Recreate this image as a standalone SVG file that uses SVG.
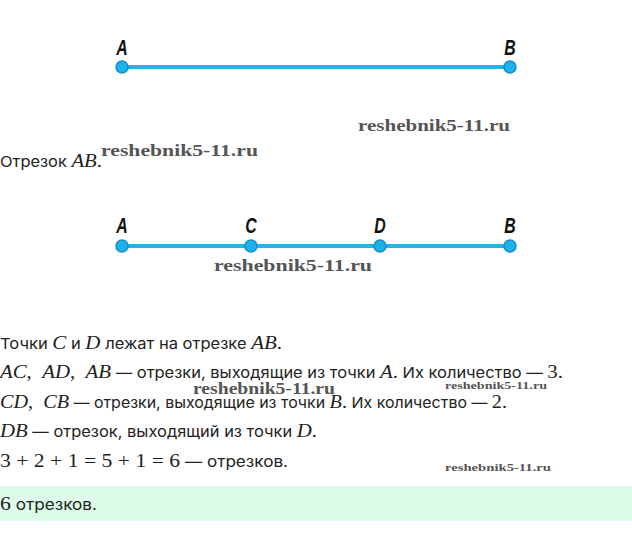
<svg xmlns="http://www.w3.org/2000/svg" width="632" height="554" viewBox="0 0 632 554">
<style>
.seg{stroke:#22b5ea;stroke-width:4;fill:none}
.pt{fill:#1eb0e8;stroke:#0e90cf;stroke-width:1.5}
.lbl{font-family:"Liberation Sans",Arial,sans-serif;font-style:italic;font-weight:bold;font-size:22px;fill:#111;text-anchor:middle}
.wm{font-family:"Liberation Serif","DejaVu Serif",serif;font-weight:bold;font-size:17px;fill:#555}
.wms{font-family:"Liberation Serif","DejaVu Serif",serif;font-weight:bold;font-size:11px;fill:#555}
.t{font-family:Inter,"Noto Sans",sans-serif;font-size:15px;fill:#222}
.m{font-family:"Liberation Serif","DejaVu Serif",serif;font-style:italic;font-size:19px}
.n{font-family:"Liberation Serif","DejaVu Serif",serif;font-size:19px}
</style>
<rect width="632" height="554" fill="#fff"/>
<rect x="0" y="486" width="632" height="35" fill="#dcfce9"/>
<g id="connectors">
<line class="seg" x1="122" y1="67" x2="510" y2="67"/>
<line class="seg" x1="122" y1="246" x2="510" y2="246"/>
</g>
<g id="top-A"><circle class="pt" cx="122" cy="67" r="6"/><text class="lbl" x="122" y="55" transform="translate(122 0) scale(0.72 1) translate(-122 0)">A</text></g>
<g id="top-B"><circle class="pt" cx="510" cy="67" r="6"/><text class="lbl" x="510" y="55" transform="translate(510 0) scale(0.72 1) translate(-510 0)">B</text></g>
<g id="A"><circle class="pt" cx="122" cy="246" r="6"/><text class="lbl" x="122" y="233" transform="translate(122 0) scale(0.72 1) translate(-122 0)">A</text></g>
<g id="C"><circle class="pt" cx="251" cy="246" r="6"/><text class="lbl" x="251" y="233" transform="translate(251 0) scale(0.72 1) translate(-251 0)">C</text></g>
<g id="D"><circle class="pt" cx="380" cy="246" r="6"/><text class="lbl" x="380" y="233" transform="translate(380 0) scale(0.72 1) translate(-380 0)">D</text></g>
<g id="B"><circle class="pt" cx="510" cy="246" r="6"/><text class="lbl" x="510" y="233" transform="translate(510 0) scale(0.72 1) translate(-510 0)">B</text></g>

<text class="wm" x="358" y="131" textLength="152" lengthAdjust="spacingAndGlyphs">reshebnik5-11.ru</text>
<text class="wm" x="101" y="156" textLength="157" lengthAdjust="spacingAndGlyphs">reshebnik5-11.ru</text>
<text class="wm" x="214" y="271" textLength="158" lengthAdjust="spacingAndGlyphs">reshebnik5-11.ru</text>
<text class="wm" x="193" y="394" textLength="142" lengthAdjust="spacingAndGlyphs">reshebnik5-11.ru</text>
<text class="wms" x="445" y="389" textLength="102" lengthAdjust="spacingAndGlyphs">reshebnik5-11.ru</text>
<text class="wms" x="445" y="471" textLength="106" lengthAdjust="spacingAndGlyphs">reshebnik5-11.ru</text>

<text class="t" x="0" y="167" textLength="102" lengthAdjust="spacingAndGlyphs">Отрезок <tspan class="m">AB</tspan><tspan class="n">.</tspan></text>
<text class="t" x="0" y="349" textLength="282" lengthAdjust="spacingAndGlyphs">Точки <tspan class="m">C</tspan> и <tspan class="m">D</tspan> лежат на отрезке <tspan class="m">AB</tspan><tspan class="n">.</tspan></text>
<text class="t" x="0" y="378" textLength="563" lengthAdjust="spacingAndGlyphs"><tspan class="m">AC</tspan><tspan class="n">, &#160;</tspan><tspan class="m">AD</tspan><tspan class="n">, &#160;</tspan><tspan class="m">AB</tspan> — отрезки, выходящие из точки <tspan class="m">A</tspan><tspan class="n">.</tspan> Их количество — <tspan class="n">3.</tspan></text>
<text class="t" x="0" y="408" textLength="507" lengthAdjust="spacingAndGlyphs"><tspan class="m">CD</tspan><tspan class="n">, &#160;</tspan><tspan class="m">CB</tspan> — отрезки, выходящие из точки <tspan class="m">B</tspan><tspan class="n">.</tspan> Их количество — <tspan class="n">2.</tspan></text>
<text class="t" x="0" y="437" textLength="317" lengthAdjust="spacingAndGlyphs"><tspan class="m">DB</tspan> — отрезок, выходящий из точки <tspan class="m">D</tspan><tspan class="n">.</tspan></text>
<text class="t" x="0" y="467" textLength="288" lengthAdjust="spacingAndGlyphs"><tspan class="n">3 + 2 + 1 = 5 + 1 = 6</tspan> — отрезков.</text>
<text class="t" x="0" y="510" textLength="97" lengthAdjust="spacingAndGlyphs"><tspan class="n">6</tspan> отрезков.</text>
</svg>
